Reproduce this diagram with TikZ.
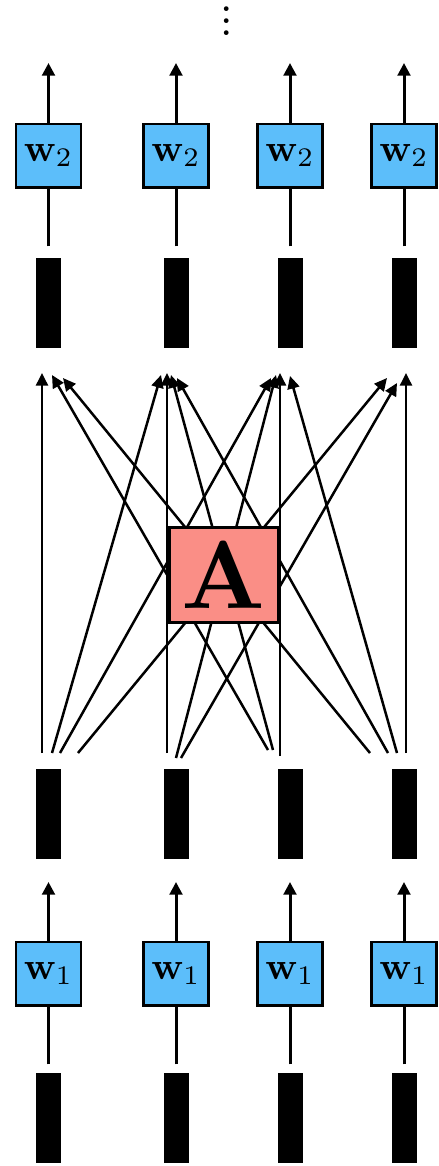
\documentclass[tikz,border=0pt]{standalone}
\usepackage{graphicx}
\usetikzlibrary{arrows.meta}
\definecolor{wblue}{RGB}{92,190,250}
\definecolor{apink}{RGB}{250,142,134}
\begin{document}
\begin{tikzpicture}[x=0.3pt,y=-0.3pt,
  bar/.style={fill=black,inner sep=0pt,minimum width=7.5pt,minimum height=27pt},
  wbox/.style={draw=black,line width=0.8pt,fill=wblue,inner sep=0pt,minimum width=19.6pt,minimum height=19pt},
  abox/.style={draw=black,line width=0.8pt,fill=apink,inner sep=0pt,minimum width=32.8pt,minimum height=28.6pt},
  conn/.style={line width=0.9pt},
  arr/.style={line width=0.9pt,-{Triangle[width=3.8pt,length=3.8pt]}},
  fan/.style={line width=0.75pt,-{Triangle[width=3.6pt,length=3.8pt]}}]
\useasboundingbox (0,0) rectangle (439,1166);

\foreach \i/\x in {1/48.5,2/176,3/290,4/404}{
  % bottom row
  \node[bar] (b\i) at (\x,1118) {};
  \node[wbox] (wa\i) at (\x,973.5) {\scalebox{1.15}{$\mathbf{w}_1$}};
  \coordinate (ua\i) at (\x,882);
  \draw[conn] ([yshift=2.4pt]b\i.north) -- (wa\i.south);
  \draw[arr] (wa\i.north) -- (ua\i);
  % middle bars
  \node[bar] (m\i) at (\x,814) {};
  % top row
  \node[bar] (t\i) at (\x,303) {};
  \node[wbox] (wb\i) at (\x,155.5) {\scalebox{1.15}{$\mathbf{w}_2$}};
  \coordinate (ub\i) at (\x,63);
  \draw[conn] ([yshift=3.3pt]t\i.north) -- (wb\i.south);
  \draw[arr] (wb\i.north) -- (ub\i);
}

% fan connections (start -> end)
\coordinate (s11) at (42,753);  \coordinate (e11) at (42,373);
\coordinate (s12) at (52,753);  \coordinate (e12) at (161,375);
\coordinate (s13) at (60,753);  \coordinate (e13) at (271,378);
\coordinate (s14) at (78,753);  \coordinate (e14) at (387,378);
\coordinate (s22) at (167,753); \coordinate (e22) at (167,373);
\coordinate (s23) at (176,758); \coordinate (e23) at (276,375);
\coordinate (s24) at (181,758); \coordinate (e24) at (397,383);
\coordinate (s31) at (268,750); \coordinate (e31) at (52,375);
\coordinate (s32) at (273,750); \coordinate (e32) at (171,375);
\coordinate (s33) at (280,756); \coordinate (e33) at (280,373);
\coordinate (s41) at (370,753); \coordinate (e41) at (63,378);
\coordinate (s42) at (388,753); \coordinate (e42) at (177,378);
\coordinate (s43) at (397,753); \coordinate (e43) at (290,376);
\coordinate (s44) at (406,753); \coordinate (e44) at (406,373);
\foreach \p in {11,12,13,14,22,23,24,31,32,33,41,42,43,44}{
  \draw[fan] (s\p) -- (e\p);
}

\node[abox] (A) at (224,575) {\scalebox{2.9}{$\mathbf{A}$}};

\node[inner sep=0pt] (dots) at (227,21)
  {\vbox{\baselineskip3.6pt\lineskiplimit0pt\hbox{\LARGE .}\hbox{\LARGE .}\hbox{\LARGE .}}};
\end{tikzpicture}
\end{document}
